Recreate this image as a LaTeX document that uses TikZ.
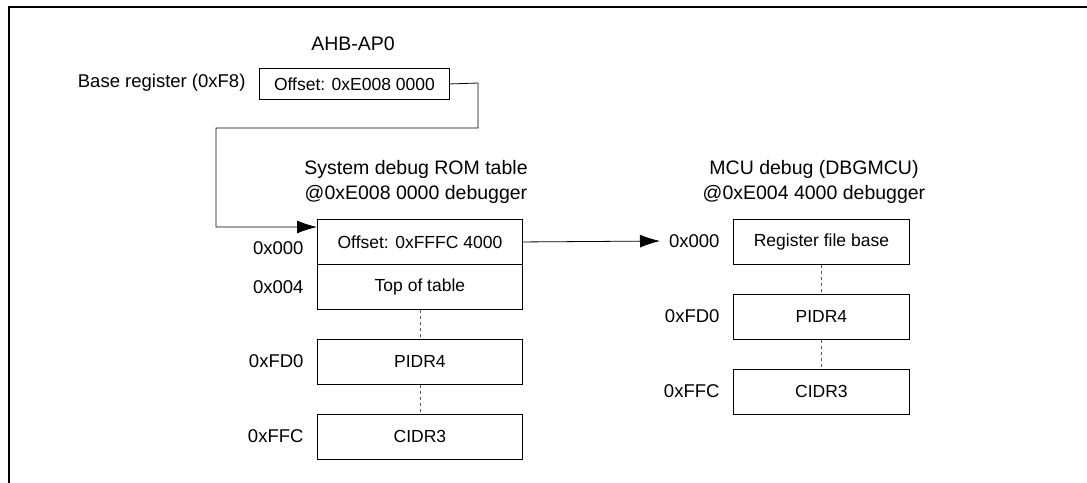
\documentclass[tikz,border=0pt]{standalone}
\usepackage{fontspec}
\setmainfont{Liberation Sans}
\usetikzlibrary{arrows.meta}
\begin{document}
\begin{tikzpicture}[x=1pt,y=-1pt,
  reg/.style={draw,line width=0.9pt,anchor=north west,minimum width=205pt,inner sep=0pt,font=\fontsize{17.5}{20}\selectfont},
  lbl/.style={font=\fontsize{18.5}{21}\selectfont},
  ttl/.style={font=\fontsize{19.5}{25}\selectfont,align=center},
  dsh/.style={dashed,line width=0.8pt,gray!70!black},
  arr/.style={-{Latex[length=20pt,width=13pt]},line width=0.8pt}]
\useasboundingbox (0,0) rectangle (1087,482);
\draw[line width=2pt] (9,490) -- (9,7) -- (1095,7);
\node[ttl] (ahb) at (353,44) {AHB-AP0};
\node[reg,minimum width=190pt,minimum height=31pt] (base) at (259,68) {Offset: 0xE008 0000};
\node[lbl,anchor=east] (basel) at (249,83) {Base register (0xF8)};
% ROM table
\node[ttl] (romt) at (416,182) {System debug ROM table\\@0xE008 0000 debugger};
\node[reg,minimum height=45pt] (r1) at (317,219) {Offset: 0xFFFC 4000};
\node[reg,minimum height=45pt] (r2) at (317,264) {Top of table};
\node[reg,minimum height=45pt] (r3) at (317,339) {PIDR4};
\node[reg,minimum height=45pt] (r4) at (317,414) {CIDR3};
\draw[dsh] (r2.south) -- (r3.north);
\draw[dsh] (r3.south) -- (r4.north);
\node[lbl,anchor=east] at (307,248) {0x000};
\node[lbl,anchor=east] at (307,287) {0x004};
\node[lbl,anchor=east] at (307,361) {0xFD0};
\node[lbl,anchor=east] at (307,436) {0xFFC};
% MCU
\node[ttl] (mcut) at (814,182) {MCU debug (DBGMCU)\\@0xE004 4000 debugger};
\node[reg,minimum width=176pt,minimum height=45pt] (m1) at (733,219) {Register file base};
\node[reg,minimum width=176pt,minimum height=45pt] (m2) at (733,294) {PIDR4};
\node[reg,minimum width=176pt,minimum height=45pt] (m3) at (733,369) {CIDR3};
\draw[dsh] (m1.south) -- (m2.north);
\draw[dsh] (m2.south) -- (m3.north);
\node[lbl,anchor=east] at (723,241) {0x000};
\node[lbl,anchor=east] at (723,316) {0xFD0};
\node[lbl,anchor=east] at (723,391) {0xFFC};
% connectors
\coordinate (c1) at (478,83);
\coordinate (c2) at (478,128);
\coordinate (c3) at (216,128);
\coordinate (c4) at (216,227);
\coordinate (tip) at (660,241);
\draw[arr] (base.east) -- (c1) -- (c2) -- (c3) -- (c4) -- (r1.west |- c4);
\draw[arr] (r1.east) -- (tip);
\end{tikzpicture}
\end{document}
